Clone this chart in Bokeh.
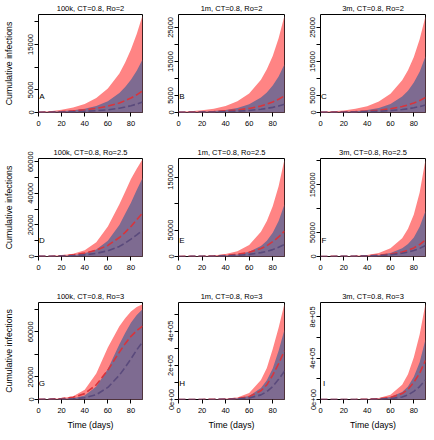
from bokeh.plotting import figure
from bokeh.layouts import gridplot
from bokeh.models import Range1d, FixedTicker
from bokeh.embed import file_html
from bokeh.resources import INLINE

# ---- data (values in thousands of cumulative infections) ----
days = [0, 10, 20, 30, 40, 50, 60, 70, 75, 80, 85, 90]
letters = ["A", "B", "C", "D", "E", "F", "G", "H", "I"]
titles = ["100k, CT=0.8, Ro=2", "1m, CT=0.8, Ro=2", "3m, CT=0.8, Ro=2",
          "100k, CT=0.8, Ro=2.5", "1m, CT=0.8, Ro=2.5", "3m, CT=0.8, Ro=2.5",
          "100k, CT=0.8, Ro=3", "1m, CT=0.8, Ro=3", "3m, CT=0.8, Ro=3"]

upper_band = [
    [0.1, 0.3, 0.6, 1.1, 1.9, 3.2, 5.3, 8.6, 11.0, 13.9, 17.3, 21.4],
    [0.2, 0.38, 0.65, 1.1, 1.9, 3.3, 5.6, 9.6, 12.7, 16.6, 21.8, 28.5],
    [0.2, 0.36, 0.62, 1.07, 1.85, 3.2, 5.5, 9.5, 12.4, 16.3, 21.5, 28.3],
    [0.1, 0.3, 0.8, 1.8, 4.0, 9.0, 19, 33, 41, 49, 55.5, 61.5],
    [0.2, 0.45, 1.0, 2.1, 4.6, 10, 22, 47, 67, 95, 133, 184],
    [0.15, 0.3, 0.7, 1.5, 3.3, 7.5, 17, 38, 58, 88, 134, 203],
    [0.1, 0.35, 1.0, 2.9, 8.6, 23, 46, 65, 72, 78, 82, 84.5],
    [0.1, 0.2, 0.5, 1.4, 4, 12, 38, 114, 185, 295, 420, 562],
    [0.1, 0.2, 0.55, 1.6, 5, 15, 47, 142, 245, 410, 630, 930],
]
lower_band = [
    [0.05, 0.15, 0.3, 0.5, 0.85, 1.45, 2.5, 4.3, 5.6, 7.2, 9.2, 11.7],
    [0.07, 0.13, 0.23, 0.42, 0.75, 1.35, 2.4, 4.4, 5.9, 7.9, 10.6, 14.2],
    [0.07, 0.12, 0.22, 0.4, 0.72, 1.35, 2.5, 4.7, 6.4, 8.8, 12.0, 16.5],
    [0.05, 0.15, 0.35, 0.8, 2.0, 4.4, 10, 20, 27, 34, 42, 49.7],
    [0.06, 0.15, 0.35, 0.8, 1.8, 4, 9, 20, 30, 45, 67, 99],
    [0.06, 0.14, 0.3, 0.7, 1.5, 3.3, 7.5, 17, 26, 40, 62, 95],
    [0.05, 0.15, 0.45, 1.2, 3.5, 11.5, 27, 49, 59, 68, 75, 80],
    [0.05, 0.12, 0.3, 0.8, 2.3, 7, 21, 67, 112, 181, 285, 410],
    [0.05, 0.1, 0.3, 0.8, 2.5, 7.5, 23, 72, 126, 220, 360, 583],
]
red_mean = [
    [0.05, 0.1, 0.2, 0.35, 0.6, 0.9, 1.4, 2.1, 2.6, 3.2, 3.9, 4.75],
    [0.07, 0.11, 0.18, 0.29, 0.47, 0.75, 1.2, 1.9, 2.45, 3.1, 3.9, 4.9],
    [0.06, 0.1, 0.17, 0.27, 0.43, 0.68, 1.1, 1.75, 2.2, 2.8, 3.5, 4.4],
    [0.05, 0.2, 0.5, 1.0, 2.2, 4.0, 7.0, 12, 15.3, 19, 23.2, 27.6],
    [0.1, 0.25, 0.55, 1.1, 2.2, 4.2, 8, 15, 20.5, 28, 37, 48],
    [0.08, 0.18, 0.35, 0.7, 1.4, 2.6, 5, 9.5, 13, 18, 25, 35],
    [0.1, 0.3, 0.8, 2.0, 5.2, 13, 26, 42, 49.5, 56, 61, 65],
    [0.05, 0.12, 0.3, 0.8, 2, 6, 17, 51, 86, 143, 210, 286],
    [0.05, 0.1, 0.25, 0.7, 2.1, 6.3, 19, 57, 98, 167, 255, 378],
]
purple_mean = [
    [0.03, 0.06, 0.1, 0.16, 0.25, 0.4, 0.6, 0.95, 1.2, 1.5, 1.85, 2.3],
    [0.04, 0.06, 0.1, 0.15, 0.24, 0.38, 0.6, 0.95, 1.2, 1.5, 1.9, 2.4],
    [0.04, 0.06, 0.09, 0.14, 0.22, 0.35, 0.55, 0.87, 1.1, 1.4, 1.75, 2.2],
    [0.05, 0.1, 0.25, 0.5, 1.0, 2.0, 3.6, 6.4, 8.5, 11, 13.7, 16.5],
    [0.06, 0.15, 0.3, 0.6, 1.2, 2.2, 4, 7.3, 9.8, 13, 17.5, 23],
    [0.06, 0.12, 0.25, 0.55, 1.1, 2, 3.7, 6.8, 9.2, 12.5, 17, 23],
    [0.05, 0.1, 0.25, 0.6, 1.6, 4.3, 10.7, 21.6, 28.5, 36, 44, 51],
    [0.04, 0.1, 0.2, 0.4, 1.1, 3.2, 9, 27, 46, 76, 118, 166],
    [0.04, 0.08, 0.2, 0.4, 0.9, 2.7, 8, 25, 45, 79, 125, 189],
]
y_max = [21600, 28800, 28800, 62000, 185500, 205000, 86000, 568000, 939000]
y_ticks = [
    [0, 5000, 10000, 15000, 20000],
    [0, 5000, 10000, 15000, 20000, 25000],
    [0, 5000, 10000, 15000, 20000, 25000],
    [0, 10000, 20000, 30000, 40000, 50000, 60000],
    [0, 50000, 100000, 150000],
    [0, 50000, 100000, 150000, 200000],
    [0, 20000, 40000, 60000, 80000],
    [0, 100000, 200000, 300000, 400000, 500000],
    [0, 200000, 400000, 600000, 800000],
]
y_labels = [
    ["0", "5000", "", "15000", ""],
    ["0", "5000", "", "15000", "", "25000"],
    ["0", "5000", "", "15000", "", "25000"],
    ["0", "", "20000", "", "40000", "", "60000"],
    ["0", "50000", "", "150000"],
    ["0", "50000", "", "150000", ""],
    ["0", "20000", "", "60000", ""],
    ["0e+00", "", "2e+05", "", "4e+05", ""],
    ["0e+00", "", "4e+05", "", "8e+05"],
]
x_ticks = [0, 20, 40, 60, 80]
SCALE = 1000

RED = "#FF8484"
PURPLE = "#7E6B91"
RED_LINE = "#D8343C"
PURPLE_LINE = "#5A4A7C"
FONT = "Liberation Sans"

col_width = [144, 144, 138]
col_left = [37, 34, 32]
col_right = [2, 4, 1]
row_height = 144
top_b, bot_b = 13, 32

rows = []
for r in range(3):
    row = []
    for c in range(3):
        i = r * 3 + c
        p = figure(width=col_width[c], height=row_height,
                   x_range=Range1d(0, 90), y_range=Range1d(0, y_max[i]),
                   output_backend="svg", toolbar_location=None,
                   min_border_left=col_left[c], min_border_right=col_right[c],
                   min_border_top=top_b, min_border_bottom=bot_b,
                   title=titles[i])
        p.title.align = "center"
        p.title.text_font = FONT
        p.title.text_font_size = "7.5px"
        p.title.text_font_style = "normal"
        p.title.text_color = "black"
        p.title.standoff = 3
        p.grid.visible = False
        p.outline_line_color = "black"
        p.outline_line_width = 1
        p.background_fill_color = "white"
        p.border_fill_color = "white"

        up = [v * SCALE for v in upper_band[i]]
        lo = [v * SCALE for v in lower_band[i]]
        rm = [v * SCALE for v in red_mean[i]]
        pm = [v * SCALE for v in purple_mean[i]]
        p.varea(x=days, y1=[0] * len(days), y2=up, fill_color=RED)
        p.varea(x=days, y1=[0] * len(days), y2=lo, fill_color=PURPLE)
        p.line(days, rm, line_color=RED_LINE, line_width=1.6, line_dash="7 3")
        p.line(days, pm, line_color=PURPLE_LINE, line_width=1.6, line_dash="7 3")
        p.text(x=[3], y=[0.165 * y_max[i]], text=[letters[i]],
               text_align="center", text_baseline="middle",
               text_font_size="8px", text_color="black",
               text_font={"value": FONT})

        for ax in (p.xaxis[0], p.yaxis[0]):
            ax.axis_line_color = None
            ax.major_tick_line_color = "black"
            ax.major_tick_out = 4
            ax.major_tick_in = 0
            ax.minor_tick_line_color = None
            ax.major_label_text_font = FONT
            ax.major_label_text_font_size = "7.5px"
            ax.major_label_text_color = "black"
            ax.axis_label_text_font = FONT
            ax.axis_label_text_font_size = "8.8px"
            ax.axis_label_text_font_style = "normal"
            ax.axis_label_text_color = "black"

        p.xaxis.ticker = FixedTicker(ticks=x_ticks)
        p.xaxis.major_label_standoff = 4
        p.yaxis.ticker = FixedTicker(ticks=y_ticks[i])
        p.yaxis.major_label_overrides = {t: l for t, l in zip(y_ticks[i], y_labels[i])}
        p.yaxis.major_label_orientation = "vertical"
        p.yaxis.major_label_standoff = 1
        if c == 0:
            p.yaxis.axis_label = "Cumulative infections"
            p.yaxis.axis_label_standoff = 12
        if r == 2:
            p.xaxis.axis_label = "Time (days)"
            p.xaxis.axis_label_standoff = 4
        row.append(p)
    rows.append(row)

grid = gridplot(rows, toolbar_location=None)
open("out.html", "w").write(file_html(grid, INLINE))
